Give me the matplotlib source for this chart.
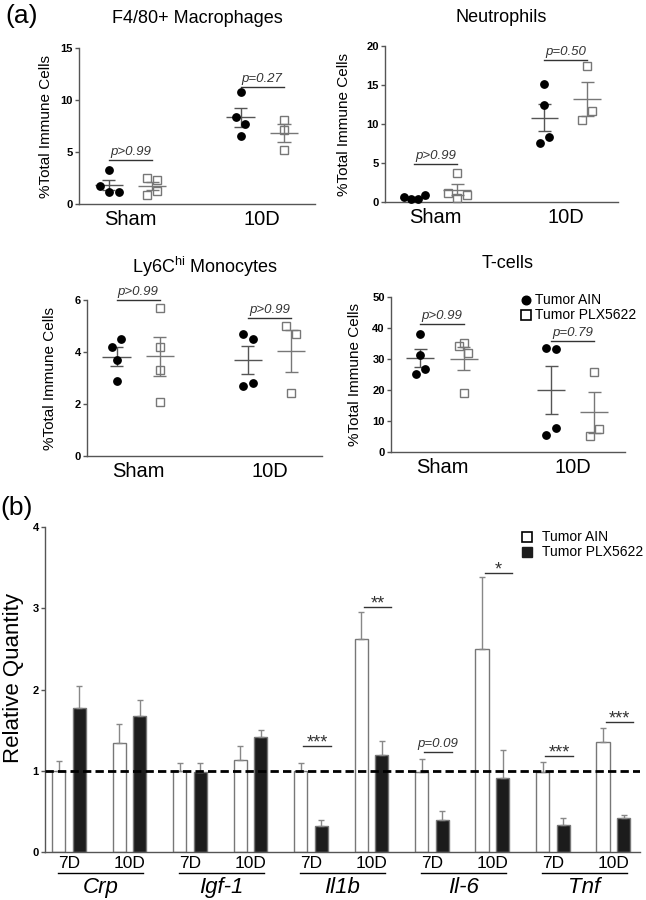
import numpy as np
import matplotlib
matplotlib.use("Agg")
import matplotlib.pyplot as plt
import matplotlib.transforms as mtrans

plt.rcParams['font.family'] = ['Liberation Sans', 'DejaVu Sans']
plt.rcParams['mathtext.fontset'] = 'custom'
plt.rcParams['mathtext.rm'] = 'Liberation Sans'
plt.rcParams['mathtext.it'] = 'Liberation Sans:italic'
plt.rcParams['mathtext.bf'] = 'Liberation Sans:bold'

# ---------------- data: panel (a) ----------------
groups = ["Sham", "10D"]
legend_a = ["Tumor AIN", "Tumor PLX5622"]

mac_ain = [[3.30, 1.70, 1.12, 1.15], [10.74, 8.37, 7.69, 6.51]]
mac_plx = [[2.50, 2.34, 0.90, 1.28], [8.10, 7.10, 5.16]]
mac_p = ["p>0.99", "p=0.27"]

neu_ain = [[0.64, 0.34, 0.34, 0.86], [15.12, 12.38, 8.27, 7.54]]
neu_plx = [[3.68, 1.11, 0.51, 0.94], [17.43, 11.69, 10.49]]
neu_p = ["p>0.99", "p=0.50"]

mono_ain = [[4.50, 4.21, 3.69, 2.90], [4.71, 4.50, 2.79, 2.71]]
mono_plx = [[5.71, 4.21, 3.31, 2.09], [5.00, 4.71, 2.41]]
mono_p = ["p>0.99", "p>0.99"]

tc_ain = [[38.2, 31.4, 26.8, 25.3], [33.7, 33.1, 7.7, 5.5]]
tc_plx = [[35.3, 34.3, 31.8, 19.0], [25.8, 7.4, 5.05]]
tc_p = ["p>0.99", "p=0.79"]

# ---------------- data: panel (b) ----------------
genes = ["Crp", "Igf-1", "Il1b", "Il-6", "Tnf"]
timepoints = ["7D", "10D"]
legend_b = ["Tumor AIN", "Tumor PLX5622"]
rq_ain = [1.00, 1.34, 1.00, 1.13, 1.00, 2.62, 0.99, 2.50, 0.99, 1.36]
rq_ain_err = [0.12, 0.23, 0.09, 0.17, 0.09, 0.34, 0.15, 0.88, 0.12, 0.17]
rq_plx = [1.77, 1.67, 0.99, 1.41, 0.32, 1.19, 0.40, 0.91, 0.33, 0.42]
rq_plx_err = [0.27, 0.20, 0.10, 0.09, 0.07, 0.18, 0.11, 0.34, 0.09, 0.04]
sig_labels = ["***", "**", "p=0.09", "*", "***", "***"]
sig_pairs = [4, 5, 6, 7, 8, 9]

# ---------------- layout / style ----------------
W, H = 646, 900
fig = plt.figure(figsize=(W / 100, H / 100), dpi=100)


def px_axes(l, r, top, bottom):
    return fig.add_axes([l / W, 1 - bottom / H, (r - l) / W, (bottom - top) / H])


OFF = 0.165
J = 0.036
SPINE = '#555555'


def style_axes(ax, yticks):
    for s in ['top', 'right']:
        ax.spines[s].set_visible(False)
    for s in ['left', 'bottom']:
        ax.spines[s].set_color(SPINE)
        ax.spines[s].set_linewidth(1.0)
    ax.set_yticks(yticks, labels=[f"{t:g}" for t in yticks], fontweight='bold', fontsize=8)
    ax.tick_params(axis='y', length=3, width=1, color=SPINE, pad=1.5)


def scatter_panel(ax, title, ain, plx, jit_ain, jit_plx, ymax, ystep, pvals, pys,
                  title_pad, ylab_x):
    ax.set_xlim(-0.39, 1.40)
    ax.set_ylim(0, ymax)
    ax.set_xticks([0, 1])
    ax.set_xticklabels(groups, fontsize=14.5)
    ax.tick_params(axis='x', length=0, pad=4)
    style_axes(ax, list(np.arange(0, ymax + 0.01, ystep)))
    for g in range(2):
        xa = g - OFF + np.array(jit_ain[g]) * J
        xp = g + OFF + np.array(jit_plx[g]) * J
        ax.plot(xa, ain[g], 'o', color='black', ms=5.3, zorder=4, clip_on=False)
        ax.plot(xp, plx[g], 's', mfc='none', mec='#777777', mew=1.0, ms=5.6,
                zorder=4, clip_on=False)
        for vals, xc, col in [(ain[g], g - OFF, '#555555'), (plx[g], g + OFF, '#777777')]:
            v = np.array(vals)
            m = v.mean()
            s = v.std(ddof=1) / np.sqrt(len(v))
            ax.hlines(m, xc - 0.107, xc + 0.107, color=col, lw=1, zorder=3)
            ax.vlines(xc, m - s, m + s, color=col, lw=1, zorder=3)
            ax.hlines([m - s, m + s], xc - 0.05, xc + 0.05, color=col, lw=1, zorder=3)
        ax.plot([g - OFF, g + OFF], [pys[g], pys[g]], color='#333333', lw=1, clip_on=False)
        ax.annotate(pvals[g], (g, pys[g]), xytext=(0, 1.5), textcoords='offset points',
                    ha='center', va='bottom', fontsize=9.5, style='italic',
                    color='#333333', annotation_clip=False)
    ax.set_title(title, fontsize=13, pad=title_pad)
    ax.set_ylabel("%Total Immune Cells", fontsize=11)
    ax.yaxis.set_label_coords(ylab_x, 0.5)


ax1 = px_axes(79, 315, 48, 204)
scatter_panel(ax1, "F4/80+ Macrophages", mac_ain, mac_plx,
              [[0, -1.9, 0, 2.1], [0, -1, 1, 0]], [[-1, 1, -1, 1], [0, 0, 0]],
              15, 5, mac_p, [4.26, 11.25], 18, -0.11)

ax2 = px_axes(385, 618, 46, 202)
scatter_panel(ax2, "Neutrophils", neu_ain, neu_plx,
              [[-2.3, -0.8, 0.8, 2.3], [0, 0, 1, -1]], [[0, -1.9, 0, 2.1], [0, 0.9, -1.1]],
              20, 5, neu_p, [4.84, 18.2], 17, -0.146)

ax3 = px_axes(87, 322, 300, 456)
scatter_panel(ax3, "Ly6C$^{\\mathrm{hi}}$ Monocytes", mono_ain, mono_plx,
              [[1, -1, 0, 0], [-1, 1, 1, -1]], [[0, 0, 0, 0], [-1, 1, 0]],
              6, 2, mono_p, [6.0, 5.29], 19.5, -0.128)

ax4 = px_axes(391, 625, 297, 452)
scatter_panel(ax4, "T-cells", tc_ain, tc_plx,
              [[0, 0, 1, -1], [-1, 1, 1, -1]], [[0, -1, 1, 0], [0, 1, -1]],
              50, 10, tc_p, [41.2, 35.7], 21, -0.124)
ax4.plot([0.577], [0.98], 'o', color='black', ms=6.2, transform=ax4.transAxes, clip_on=False)
ax4.plot([0.577], [0.884], 's', mfc='white', mec='black', mew=1.2, ms=6.5,
         transform=ax4.transAxes, clip_on=False)
ax4.text(0.615, 0.98, legend_a[0], transform=ax4.transAxes, fontsize=10, va='center')
ax4.text(0.615, 0.884, legend_a[1], transform=ax4.transAxes, fontsize=10, va='center')

# ---------------- panel (b) ----------------
axb = px_axes(45, 640, 527, 852)
n = len(rq_ain)
x = np.arange(n)
BW = 0.22
BO = 0.17
axb.bar(x - BO, rq_ain, width=BW, color='white', edgecolor='#777777', lw=1, zorder=2,
        yerr=[np.zeros(n), rq_ain_err],
        error_kw=dict(ecolor='#888888', elinewidth=1, capsize=2.5, capthick=1))
axb.bar(x + BO, rq_plx, width=BW, color='#1c1c1c', edgecolor='#777777', lw=1, zorder=2,
        yerr=[np.zeros(n), rq_plx_err],
        error_kw=dict(ecolor='#888888', elinewidth=1, capsize=2.5, capthick=1))
axb.axhline(1, color='black', lw=2, ls=(0, (3, 1.5)), zorder=5)
axb.set_xlim(-0.397, 9.44)
axb.set_ylim(0, 4)
axb.set_xticks(x)
axb.set_xticklabels(timepoints * len(genes), fontsize=12.5)
axb.tick_params(axis='x', length=0, pad=3)
style_axes(axb, [0, 1, 2, 3, 4])
axb.set_ylabel("Relative Quantity", fontsize=16)
axb.yaxis.set_label_coords(-0.035, 0.535)

trans = mtrans.blended_transform_factory(axb.transData, axb.transAxes)
for gi, gname in enumerate(genes):
    i0 = 2 * gi
    axb.plot([i0 - 0.18, i0 + 1.22], [-0.065, -0.065], color='black', lw=1,
             transform=trans, clip_on=False)
    axb.text(i0 + 0.52, -0.077, gname, transform=trans, ha='center', va='top',
             fontsize=16, style='italic')

for lab, i, y in zip(sig_labels, sig_pairs, [1.30, 3.02, 1.23, 3.43, 1.18, 1.60]):
    axb.plot([i - 0.13, i + 0.33], [y, y], color='#333333', lw=1)
    if lab.startswith('p'):
        axb.annotate(lab, (i + 0.10, y), xytext=(0, 1.5), textcoords='offset points',
                     ha='center', va='bottom', fontsize=9.5, style='italic', color='#333333')
    else:
        axb.annotate(lab, (i + 0.10, y), xytext=(0, -1), textcoords='offset points',
                     ha='center', va='baseline', fontsize=13, color='#333333')

axb.plot([0.81], [0.969], 's', mfc='white', mec='black', mew=1.2, ms=6.5,
         transform=axb.transAxes, clip_on=False)
axb.plot([0.81], [0.923], 's', color='#1c1c1c', ms=6.5, transform=axb.transAxes, clip_on=False)
axb.text(0.835, 0.969, legend_b[0], transform=axb.transAxes, fontsize=10, va='center')
axb.text(0.835, 0.923, legend_b[1], transform=axb.transAxes, fontsize=10, va='center')

fig.text(5 / W, 1 - 16 / H, "(a)", fontsize=19, va='center', ha='left')
fig.text(0 / W, 1 - 508 / H, "(b)", fontsize=19, va='center', ha='left')

fig.savefig("out.png", dpi=100)
